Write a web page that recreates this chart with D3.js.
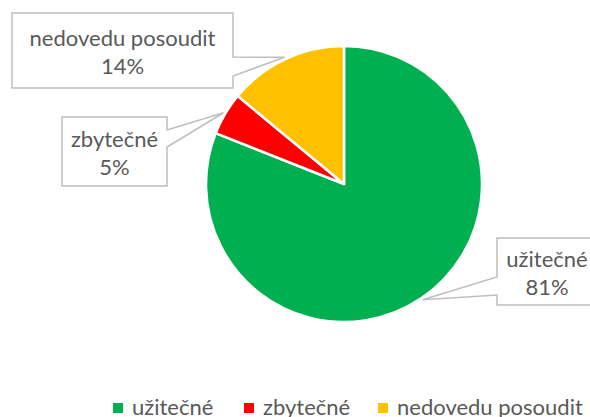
<!DOCTYPE html>
<html>
<head>
<meta charset="utf-8">
<script src="https://cdn.jsdelivr.net/npm/d3@7"></script>
<style>
  body { margin: 0; background: #fff; }
  svg text { font-family: Lato, "Open Sans", sans-serif; fill: #595959; }
</style>
</head>
<body>
<div id="chart"></div>
<script>
  const categories = ['užitečné', 'zbytečné', 'nedovedu posoudit'];
  const values = [81, 5, 14];
  const colors = ['#00B050', '#FF0000', '#FFC000'];

  const width = 590;
  const height = 417;
  const cx = 344, cy = 184, radius = 138;

  // callout boxes, pointer on one side between p1 and p2
  const boxes = [
    { x: 497, y: 238, w: 100, h: 67, side: 'left', p1: 277, p2: 295, tx: 50 },
    { x: 62, y: 117, w: 105, h: 69, side: 'right', p1: 130, p2: 147 },
    { x: 12, y: 13, w: 221, h: 75, side: 'right', p1: 57, p2: 76 }
  ];

  const svg = d3.select('#chart').append('svg')
    .attr('width', width)
    .attr('height', height);

  const pie = d3.pie().sort(null).value(d => d)(values);
  const arc = d3.arc().innerRadius(0).outerRadius(radius);

  const g = svg.append('g').attr('transform', `translate(${cx},${cy})`);
  g.selectAll('path')
    .data(pie)
    .join('path')
    .attr('d', arc)
    .attr('fill', (d, i) => colors[i])
    .attr('stroke', '#fff')
    .attr('stroke-width', 2.5)
    .attr('stroke-linejoin', 'round');

  // leader tip sits on the middle of each slice, just at the rim
  const tipArc = d3.arc().innerRadius(radius + 2).outerRadius(radius + 2);
  pie.forEach((d, i) => {
    const [ox, oy] = tipArc.centroid(d);
    const tx = cx + ox, ty = cy + oy;
    const b = boxes[i];
    const xr = b.x + b.w;
    let pts;
    if (b.side === 'right') {
      pts = [[b.x, b.y], [xr, b.y], [xr, b.p1], [tx, ty], [xr, b.p2], [xr, b.y + b.h], [b.x, b.y + b.h]];
    } else {
      pts = [[b.x, b.y], [xr, b.y], [xr, b.y + b.h], [b.x, b.y + b.h], [b.x, b.p2], [tx, ty], [b.x, b.p1]];
    }
    svg.append('path')
      .attr('d', d3.line()(pts) + 'Z')
      .attr('fill', '#fff')
      .attr('stroke', '#bfbfbf')
      .attr('stroke-width', 1.5);

    const mx = b.tx ? b.x + b.tx : b.x + b.w / 2;
    const my = b.y + b.h / 2;
    const t = svg.append('text')
      .attr('text-anchor', 'middle')
      .attr('font-size', 22);
    t.append('tspan').attr('x', mx).attr('y', my - 5).text(categories[i]);
    t.append('tspan').attr('x', mx).attr('y', my + 23).text(values[i] + '%');
  });

  // legend
  const legendX = [113, 244, 378];
  const legend = svg.append('g');
  categories.forEach((c, i) => {
    legend.append('rect')
      .attr('x', legendX[i]).attr('y', 403)
      .attr('width', 10).attr('height', 10)
      .attr('fill', colors[i]);
    legend.append('text')
      .attr('x', legendX[i] + 19).attr('y', 415)
      .attr('font-size', 22)
      .text(c);
  });
</script>
</body>
</html>
